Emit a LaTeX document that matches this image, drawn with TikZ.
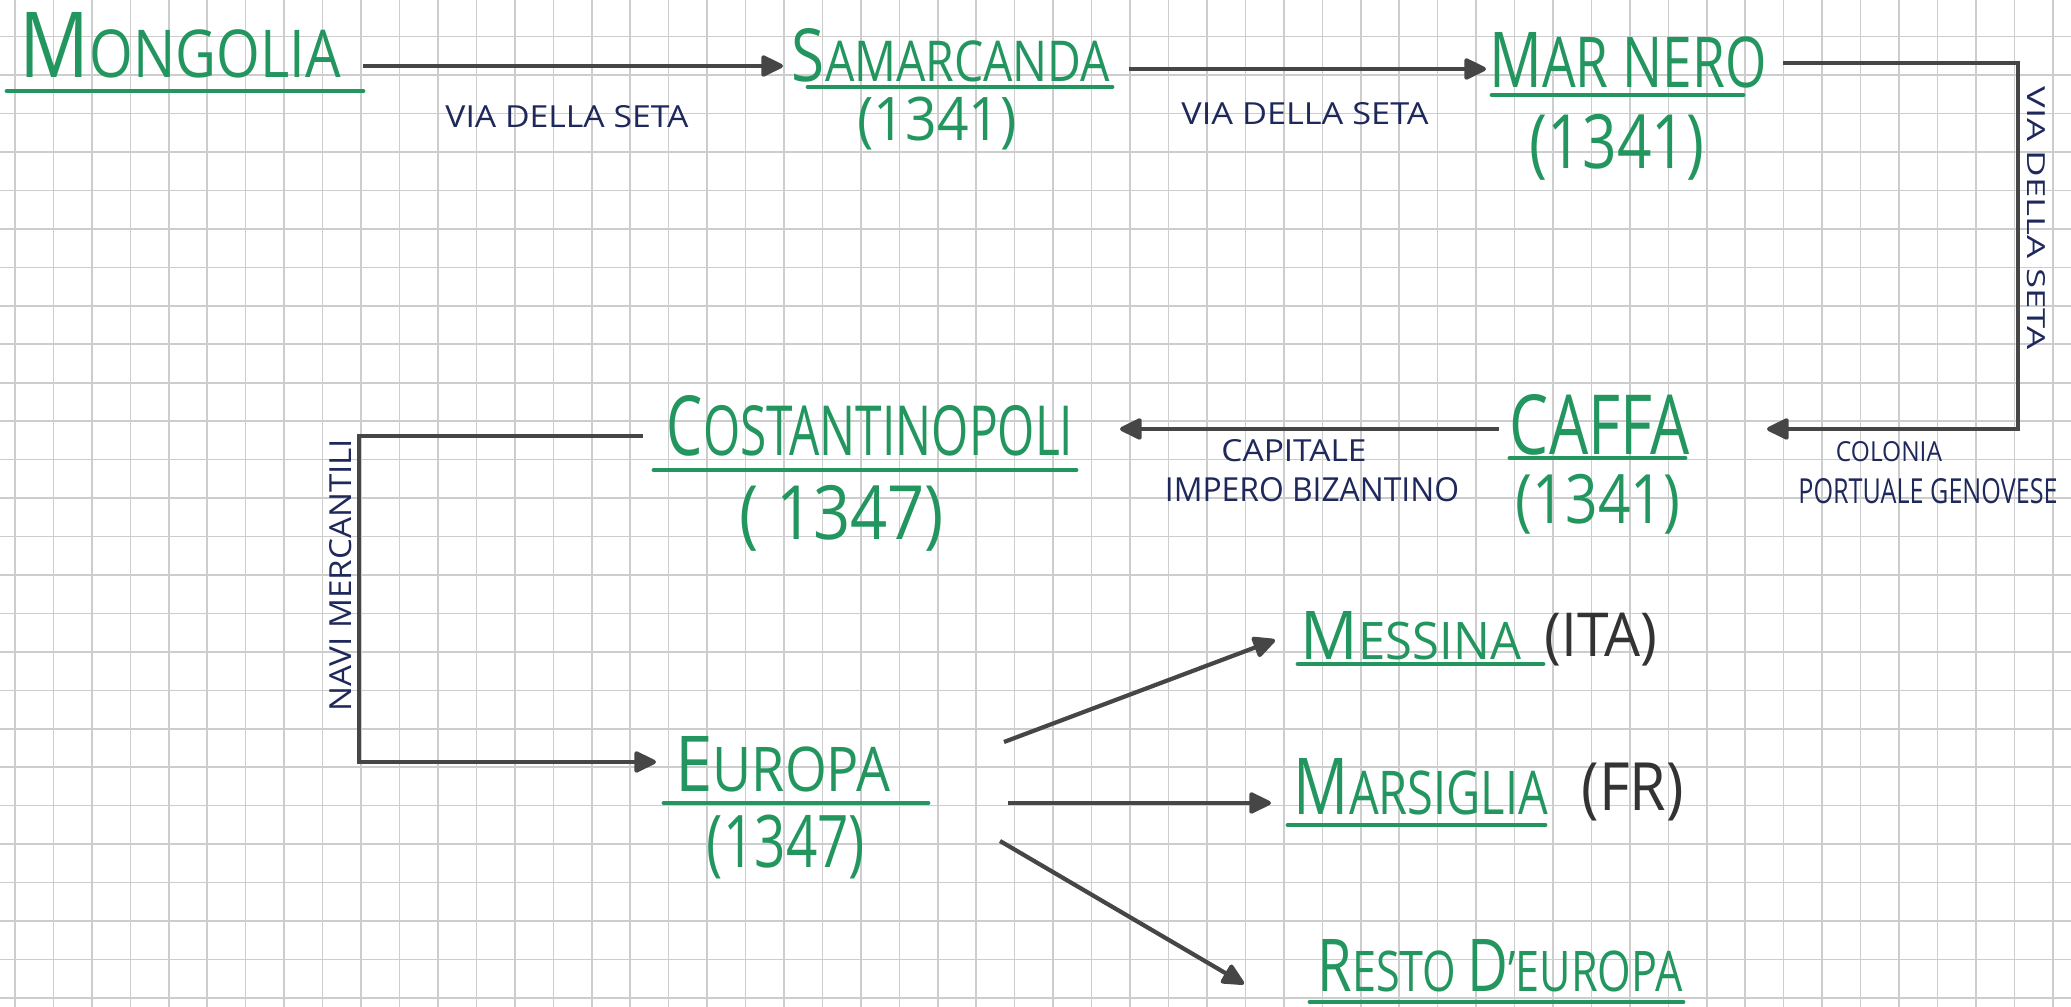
\documentclass[tikz,border=0pt]{standalone}
\usepackage{fontspec}
\setmainfont{Open Sans}
\usepackage{graphicx}
\usetikzlibrary{arrows.meta}
\definecolor{inkgreen}{RGB}{35,150,95}
\definecolor{penblue}{RGB}{30,40,90}
\definecolor{leadgray}{RGB}{70,70,70}
\definecolor{gridgray}{RGB}{205,205,205}
\newcommand\initcap[3][1.3]{\scalebox{#1}{#2}#3}
\newcommand\fitt[3]{\resizebox{#1cm}{#2cm}{#3}}
\newcommand\fittall[3]{\resizebox*{#1cm}{#2cm}{#3}}
\begin{document}
\begin{tikzpicture}[x=0.01cm,y=-0.01cm,
  title/.style={inner sep=0,text=inkgreen},
  yearlbl/.style={inner sep=0,text=inkgreen},
  tag/.style={inner sep=0,text=black!80},
  note/.style={inner sep=0,text=penblue},
  uline/.style={draw=inkgreen,line width=1.4pt,line cap=round},
  conn/.style={draw=leadgray,line width=1.2pt,-{Triangle[round,length=7pt,width=6.5pt]}},
  gridline/.style={draw=gridgray,line width=0.45pt}]
% paper and grid
\fill[white] (0,0) rectangle (2071,1007);
\useasboundingbox (0,0) rectangle (2071,1007);
\foreach \i in {0,...,53} \draw[gridline] ({15+\i*38.45},0) -- ({15+\i*38.45},1007);
\foreach \j in {0,...,25} \draw[gridline] (0,{36.7+\j*38.45}) -- (2071,{36.7+\j*38.45});

% titles
\node[title] (mon) at (180,45.5) {\fitt{3.21}{0.65}{\initcap[1.38]{M}{ONGOLIA}}};
\node[title] (sam) at (951,55.5) {\fitt{3.18}{0.53}{\initcap[1.3]{S}{AMARCANDA}}};
\node[yearlbl] (samy) at (937,124) {\fittall{1.59}{0.53}{(1341)}};
\node[title] (mar) at (1628,60.5) {\fitt{2.77}{0.55}{\initcap[1.1]{M}{AR NERO}}};
\node[yearlbl] (mary) at (1617,147) {\fittall{1.74}{0.66}{(1341)}};
\node[title] (caf) at (1600,425) {\fitt{1.80}{0.60}{CAFFA}};
\node[yearlbl] (cafy) at (1598,504) {\fittall{1.64}{0.60}{(1341)}};
\node[title] (cos) at (870,426) {\fitt{4.06}{0.60}{\initcap[1.2]{C}{OSTANTINOPOLI}}};
\node[yearlbl] (cosy) at (842,518) {\fittall{2.04}{0.66}{( 1347)}};
\node[title] (eur) at (783,764.5) {\fitt{2.15}{0.55}{\initcap[1.25]{E}{UROPA}}};
\node[yearlbl] (eury) at (786,847) {\fittall{1.58}{0.64}{(1347)}};
\node[title] (mes) at (1411,636) {\fitt{2.20}{0.48}{\initcap[1.3]{M}{ESSINA}}};
\node[tag] (mest) at (1601,640) {\fittall{1.13}{0.53}{(ITA)}};
\node[title] (mars) at (1421,787) {\fitt{2.54}{0.56}{\initcap[1.3]{M}{ARSIGLIA}}};
\node[tag] (marst) at (1633,792) {\fittall{1.02}{0.58}{(FR)}};
\node[title] (rest) at (1500,966) {\fitt{3.65}{0.52}{\initcap[1.3]{R}{ESTO} \initcap[1.3]{D}{'EUROPA}}};

% underlines
\draw[uline] (7,91) -- (363,91);
\draw[uline] (808,87) -- (1112,87);
\draw[uline] (1492,95) -- (1743,95);
\draw[uline] (1510,458) -- (1685,458);
\draw[uline] (654,470) -- (1076,470);
\draw[uline] (664,803) -- (928,803);
\draw[uline] (1298,664) -- (1543,664);
\draw[uline] (1288,825) -- (1545,825);
\draw[uline] (1310,1002) -- (1683,1002);

% notes
\node[note] (via1) at (567,117) {\fitt{2.43}{0.22}{VIA DELLA SETA}};
\node[note] (via2) at (1305,114) {\fitt{2.47}{0.22}{VIA DELLA SETA}};
\node[note,rotate=-90] (via3) at (2036,218) {\fitt{2.63}{0.18}{VIA DELLA SETA}};
\node[note] (capa) at (1294,451) {\fitt{1.45}{0.22}{CAPITALE}};
\node[note] (capb) at (1312,490) {\fitt{2.94}{0.24}{IMPERO BIZANTINO}};
\node[note] (cola) at (1889,452) {\fitt{1.06}{0.20}{COLONIA}};
\node[note] (colb) at (1928,491) {\fitt{2.59}{0.25}{PORTUALE GENOVESE}};
\node[note,rotate=90] (navi) at (341,575) {\fitt{2.72}{0.22}{NAVI MERCANTILI}};

% connector ends
\coordinate (monout) at (363,66);
\coordinate (samin) at (783,66);
\coordinate (samout) at (1129,69);
\coordinate (marin) at (1486,69);
\coordinate (marout) at (1783,63);
\coordinate (marc1) at (2018,63);
\coordinate (marc2) at (2018,429);
\coordinate (cafin) at (1767,429);
\coordinate (cafout) at (1499,429);
\coordinate (cosin) at (1120,429);
\coordinate (cosout) at (643,436);
\coordinate (cosc1) at (359,436);
\coordinate (cosc2) at (359,762);
\coordinate (eurin) at (656,762);
\coordinate (eurout1) at (1004,742);
\coordinate (mesin) at (1275,640);
\coordinate (eurout2) at (1008,803);
\coordinate (marsin) at (1271,803);
\coordinate (eurout3) at (1000,841);
\coordinate (restin) at (1244,984);

% connectors
\draw[conn] (monout) -- (samin);
\draw[conn] (samout) -- (marin);
\draw[conn] (marout) -- (marc1) -- (marc2) -- (cafin);
\draw[conn] (cafout) -- (cosin);
\draw[conn] (cosout) -- (cosc1) -- (cosc2) -- (eurin);
\draw[conn] (eurout1) -- (mesin);
\draw[conn] (eurout2) -- (marsin);
\draw[conn] (eurout3) -- (restin);
\end{tikzpicture}
\end{document}
